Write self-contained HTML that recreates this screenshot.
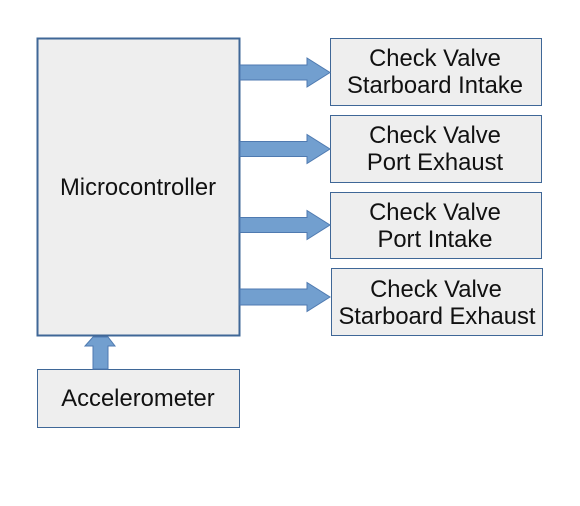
<!DOCTYPE html>
<html><head><style>
html,body{margin:0;padding:0;background:#fff;}
svg text{font-family:"Liberation Sans",sans-serif;font-size:23.8px;fill:#111;text-anchor:middle;}
</style></head><body>
<svg width="580" height="501" viewBox="0 0 580 501" xmlns="http://www.w3.org/2000/svg">
<g fill="#eeeeee" stroke="#3f6797">
<rect x="37.5" y="38.5" width="202" height="297" stroke-width="2"/>
<rect x="330.5" y="38.5" width="211" height="67"/>
<rect x="330.5" y="115.5" width="211" height="67"/>
<rect x="330.5" y="192.5" width="211" height="66"/>
<rect x="331.5" y="268.5" width="211" height="67"/>
<rect x="37.5" y="369.5" width="202" height="58"/>
</g>
<g fill="#729fcf" stroke="#4f7ab0" stroke-width="1">
<path d="M240 65 H307 V58 L330 72.5 L307 87 V80 H240 Z"/>
<path d="M240 141.5 H307 V134.5 L330 149 L307 163.5 V156.5 H240 Z"/>
<path d="M240 217.5 H307 V210.5 L330 225 L307 239.5 V232.5 H240 Z"/>
<path d="M240 289 H307 V282.5 L330 297 L307 311.5 V305 H240 Z"/>
<path d="M93 369 V346 H85 L93 337 H108 L115 346 H108 V369 Z"/>
</g>
<text x="138" y="195">Microcontroller</text>
<text x="435" y="66">Check Valve</text>
<text x="435" y="93">Starboard Intake</text>
<text x="435" y="143">Check Valve</text>
<text x="435" y="170">Port Exhaust</text>
<text x="435" y="220">Check Valve</text>
<text x="435" y="247">Port Intake</text>
<text x="436" y="297">Check Valve</text>
<text x="437" y="324">Starboard Exhaust</text>
<text x="138" y="406">Accelerometer</text>
</svg>
</body></html>
